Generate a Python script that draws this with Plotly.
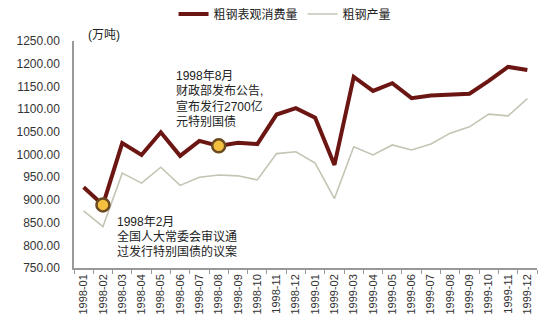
import plotly.graph_objects as go

months = ["1998-01","1998-02","1998-03","1998-04","1998-05","1998-06","1998-07","1998-08",
          "1998-09","1998-10","1998-11","1998-12","1999-01","1999-02","1999-03","1999-04",
          "1999-05","1999-06","1999-07","1999-08","1999-09","1999-10","1999-11","1999-12"]
consumption = [928, 889, 1025, 999, 1049, 997, 1030, 1019, 1026, 1023, 1088, 1102,
               1081, 977, 1171, 1140, 1157, 1124, 1130, 1131, 1134, 1162, 1193, 1186]
production = [876, 841, 959, 937, 972, 932, 950, 955, 953, 944, 1002, 1006,
              981, 903, 1017, 999, 1021, 1010, 1023, 1047, 1061, 1089, 1085, 1123]
event_months = ["1998-02", "1998-08"]
event_values = [consumption[months.index(m)] for m in event_months]
note_aug = ["1998年8月", "财政部发布公告,", "宣布发行2700亿", "元特别国债"]
note_feb = ["1998年2月", "全国人大常委会审议通", "过发行特别国债的议案"]

FONT = "Liberation Sans, Arial, Noto Sans CJK SC, sans-serif"

fig = go.Figure()
fig.add_trace(go.Scatter(x=months, y=consumption, mode="lines", name="粗钢表观消费量",
                         line=dict(color="#6b1612", width=4)))
fig.add_trace(go.Scatter(x=months, y=production, mode="lines", name="粗钢产量",
                         line=dict(color="#c4c4b4", width=1.6)))
fig.add_trace(go.Scatter(x=event_months, y=event_values, mode="markers", showlegend=False,
                         marker=dict(size=13, color="#f4c040",
                                     line=dict(color="#6b4a22", width=2.5))))

for i, line in enumerate(note_aug):
    fig.add_annotation(x=4.68, y=1174, xref="x", yref="y", xanchor="left", yanchor="middle",
                       yshift=-15.3 * i, text=line, showarrow=False, align="left",
                       font=dict(size=12, color="#222"))
for i, line in enumerate(note_feb):
    fig.add_annotation(x=1.63, y=852, xref="x", yref="y", xanchor="left", yanchor="middle",
                       yshift=-15 * i, text=line, showarrow=False, align="left",
                       font=dict(size=12, color="#222"))
fig.add_annotation(x=0.026, y=1.025, xref="paper", yref="paper", xanchor="left", yanchor="middle",
                   text="(万吨)", showarrow=False, font=dict(size=12, color="#222"))

fig.update_layout(
    width=550, height=334,
    margin=dict(l=74, r=13, t=41, b=66, autoexpand=False),
    paper_bgcolor="white", plot_bgcolor="white",
    font=dict(family=FONT, size=12, color="#333"),
    legend=dict(orientation="h", x=0.215, y=0.958, xanchor="left", yanchor="middle",
                yref="container",
                font=dict(size=12, color="#222"), itemwidth=30, tracegroupgap=0,
                bgcolor="rgba(0,0,0,0)"),
    showlegend=True,
)
fig.update_xaxes(type="category", showgrid=False, showline=True, linecolor="#999",
                 linewidth=1.5, ticks="outside", ticklen=4, tickcolor="#999",
                 tickson="boundaries", tickangle=-90, tickfont=dict(size=11, color="#333"),
                 range=[-0.5, 23.5], automargin=False)
fig.update_yaxes(range=[750, 1250], dtick=50, tickformat=".2f", showgrid=False,
                 showline=True, linecolor="#999", linewidth=1.5, zeroline=False,
                 ticks="", ticklabelstandoff=10, tickfont=dict(size=12, color="#333"),
                 automargin=False)

fig.write_html("out.html")
